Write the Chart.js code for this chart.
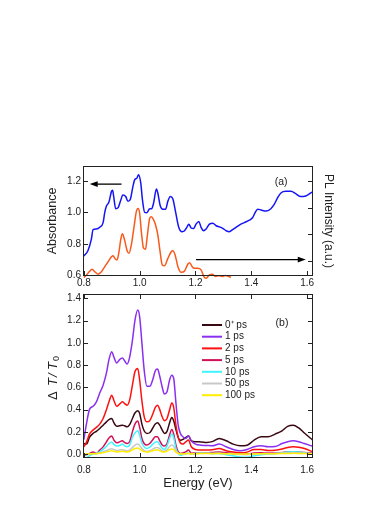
<!DOCTYPE html>
<html>
<head>
<meta charset="utf-8">
<script src="https://cdn.jsdelivr.net/npm/chart.js@4.4.1/dist/chart.umd.min.js"></script>
<style>
  body { margin: 0; background: #fff; }
  #wrap { position: relative; width: 391px; height: 506px; }
  canvas { position: absolute; left: 0; top: 0; }
</style>
</head>
<body>
<div id="wrap">
  <canvas id="chartA" width="391" height="506"></canvas>
  <canvas id="chartB" width="391" height="506"></canvas>
</div>
<script>
// ---- panel (a): absorbance (left axis) and PL (right axis, a.u.)
const absEnergy = [
  0.8, 0.815, 0.827, 0.833, 0.845, 0.857, 0.869, 0.875, 0.881, 0.89,
  0.899, 0.903, 0.907, 0.914, 0.923, 0.931, 0.94, 0.95, 0.958, 0.967,
  0.976, 0.982, 0.99, 0.996, 1.004, 1.01, 1.018, 1.026, 1.036, 1.043,
  1.05, 1.06, 1.065, 1.074, 1.083, 1.093, 1.101, 1.11, 1.119, 1.129,
  1.14, 1.152, 1.161, 1.169, 1.176, 1.185, 1.193, 1.202, 1.212, 1.22,
  1.229, 1.238, 1.25, 1.262, 1.274, 1.286, 1.298, 1.31, 1.321, 1.333,
  1.345, 1.357, 1.375, 1.393, 1.405, 1.414, 1.423, 1.435, 1.452, 1.47,
  1.482, 1.494, 1.506, 1.524, 1.542, 1.56, 1.577, 1.595, 1.613, 1.62
];
const absorbance = [
  0.723, 0.758, 0.83, 0.89, 0.894, 0.905, 0.935, 1.0, 1.04, 1.065,
  1.133, 1.14, 1.10, 1.023, 1.03, 1.07, 1.11, 1.10, 1.07, 1.085,
  1.165, 1.206, 1.217, 1.238, 1.185, 1.08, 1.0, 0.998, 1.023, 1.023,
  1.06, 1.148, 1.123, 1.04, 1.02, 1.02, 1.07, 1.10, 1.085, 1.0,
  0.905, 0.877, 0.883, 0.905, 0.925, 0.9, 0.898, 0.925, 0.942, 0.905,
  0.883, 0.894, 0.925, 0.931, 0.915, 0.908, 0.898, 0.883, 0.877, 0.89,
  0.905, 0.919, 0.935, 0.95, 0.967, 1.0, 1.02, 1.015, 1.008, 1.023,
  1.05, 1.092, 1.123, 1.133, 1.133, 1.117, 1.10, 1.104, 1.123, 1.13
];
const plEnergy = [
  0.8, 0.81, 0.819, 0.83, 0.839, 0.851, 0.863, 0.875, 0.887, 0.899,
  0.905, 0.911, 0.919, 0.926, 0.932, 0.938, 0.946, 0.955, 0.962, 0.97,
  0.98, 0.988, 0.994, 1.0, 1.006, 1.014, 1.021, 1.027, 1.036, 1.042,
  1.05, 1.057, 1.065, 1.074, 1.081, 1.089, 1.101, 1.113, 1.119, 1.127,
  1.137, 1.149, 1.161, 1.173, 1.179, 1.188, 1.196, 1.208, 1.22, 1.23,
  1.238, 1.25, 1.26, 1.271, 1.283, 1.295, 1.307, 1.319, 1.327
];
const plIntensity = [
  0.39, 0.48, 0.60, 0.69, 0.60, 0.51, 0.60, 0.79, 0.98, 1.16,
  1.20, 1.10, 1.04, 1.35, 1.79, 2.02, 1.79, 1.39, 1.29, 1.60,
  2.29, 2.85, 2.97, 2.79, 2.10, 1.48, 1.44, 1.91, 2.60, 2.66,
  2.54, 2.35, 1.98, 1.29, 0.85, 0.82, 1.10, 1.35, 1.39, 1.23,
  0.79, 0.58, 0.63, 0.89, 0.94, 0.79, 0.73, 0.73, 0.67, 0.42,
  0.36, 0.48, 0.51, 0.42, 0.45, 0.42, 0.46, 0.42, 0.39
];
const energyTicks = [0.8, 1.0, 1.2, 1.4, 1.6];
const absTicks = [0.6, 0.8, 1.0, 1.2];
const plTicks = [1, 2, 3, 4];
// arrows in panel (a), in energy / absorbance units: [x0, y0, x1, y1]
const arrowsA = [
  [0.935, 1.179, 0.821, 1.179],
  [1.202, 0.70, 1.595, 0.70]
];

// ---- panel (b): transient transmission
const dtEnergy = [
  0.8, 0.81, 0.82, 0.833, 0.845, 0.857, 0.869, 0.881, 0.89, 0.9,
  0.908, 0.918, 0.928, 0.938, 0.946, 0.955, 0.964, 0.974, 0.983, 0.993,
  1.0, 1.008, 1.016, 1.026, 1.036, 1.047, 1.056, 1.064, 1.072, 1.08,
  1.089, 1.098, 1.107, 1.115, 1.122, 1.13, 1.138, 1.146, 1.155, 1.165,
  1.175, 1.185, 1.2, 1.22, 1.24, 1.26, 1.285, 1.31, 1.335, 1.36,
  1.385, 1.41, 1.435, 1.46, 1.485, 1.51, 1.53, 1.55, 1.57, 1.59,
  1.62
];
const dt0 = [
  0.096, 0.09, 0.15, 0.186, 0.205, 0.23, 0.26, 0.29, 0.31, 0.32,
  0.28, 0.25, 0.255, 0.26, 0.255, 0.245, 0.265, 0.32, 0.37, 0.39,
  0.366, 0.27, 0.21, 0.186, 0.192, 0.235, 0.27, 0.282, 0.26, 0.22,
  0.186, 0.205, 0.28, 0.33, 0.30, 0.22, 0.15, 0.125, 0.132, 0.15,
  0.162, 0.12, 0.111, 0.11, 0.105, 0.112, 0.141, 0.12, 0.09, 0.075,
  0.08, 0.126, 0.156, 0.156, 0.18, 0.21, 0.25, 0.26, 0.235, 0.19,
  0.126
];
const dt1 = [
  0.13, 0.28, 0.40, 0.43, 0.47, 0.55, 0.62, 0.73, 0.85, 0.92,
  0.87, 0.82, 0.85, 0.865, 0.84, 0.81, 0.87, 1.02, 1.20, 1.295,
  1.235, 1.0, 0.76, 0.61, 0.61, 0.67, 0.75, 0.765, 0.70, 0.61,
  0.54, 0.56, 0.665, 0.71, 0.68, 0.46, 0.26, 0.185, 0.156, 0.14,
  0.165, 0.12, 0.09, 0.08, 0.078, 0.075, 0.09, 0.066, 0.042, 0.03,
  0.042, 0.066, 0.075, 0.066, 0.068, 0.095, 0.112, 0.12, 0.112, 0.095,
  0.07
];
const dt2 = [
  0.066, 0.11, 0.18, 0.216, 0.24, 0.27, 0.32, 0.40, 0.47, 0.53,
  0.48, 0.43, 0.45, 0.47, 0.455, 0.44, 0.486, 0.62, 0.74, 0.77,
  0.665, 0.48, 0.34, 0.29, 0.30, 0.36, 0.42, 0.44, 0.40, 0.34,
  0.30, 0.32, 0.396, 0.46, 0.42, 0.26, 0.15, 0.10, 0.09, 0.11,
  0.126, 0.066, 0.042, 0.036, 0.036, 0.04, 0.05, 0.03, 0.018, 0.012,
  0.018, 0.042, 0.042, 0.033, 0.035, 0.045, 0.06, 0.066, 0.062, 0.05,
  0.021
];
const dt5 = [
  -0.018, -0.005, 0.005, 0.02, 0.006, 0.036, 0.065, 0.11, 0.145, 0.162,
  0.125, 0.102, 0.11, 0.12, 0.105, 0.096, 0.111, 0.2, 0.27, 0.297,
  0.24, 0.14, 0.095, 0.081, 0.095, 0.13, 0.156, 0.156, 0.12, 0.085,
  0.072, 0.095, 0.17, 0.222, 0.18, 0.08, 0.02, 0.006, 0.01, 0.02,
  0.036, 0.008, 0.01, 0.012, 0.012, 0.015, 0.02, 0.012, 0.005, 0.0,
  0.0, 0.01, 0.012, 0.01, 0.01, 0.015, 0.02, 0.022, 0.02, 0.015,
  0.008
];
const dt10 = [
  -0.054, -0.035, -0.015, 0.0, 0.006, 0.02, 0.042, 0.07, 0.095, 0.108,
  0.085, 0.072, 0.078, 0.09, 0.075, 0.066, 0.081, 0.15, 0.19, 0.21,
  0.17, 0.10, 0.065, 0.05, 0.062, 0.09, 0.108, 0.111, 0.085, 0.055,
  0.042, 0.075, 0.14, 0.18, 0.15, 0.05, 0.005, -0.01, -0.005, 0.005,
  0.01, 0.0, 0.005, 0.01, 0.008, 0.005, 0.005, -0.005, -0.015, -0.025,
  -0.028, -0.015, -0.005, 0.0, 0.005, 0.012, 0.02, 0.022, 0.02, 0.012,
  0.0
];
const dt50 = [
  -0.01, -0.005, 0.0, 0.005, 0.005, 0.01, 0.02, 0.032, 0.042, 0.048,
  0.04, 0.033, 0.036, 0.04, 0.035, 0.03, 0.035, 0.06, 0.08, 0.09,
  0.078, 0.05, 0.032, 0.025, 0.03, 0.045, 0.058, 0.06, 0.048, 0.032,
  0.025, 0.04, 0.068, 0.082, 0.07, 0.03, 0.008, 0.0, 0.0, 0.005,
  0.008, 0.002, 0.005, 0.008, 0.008, 0.006, 0.008, 0.004, 0.0, -0.004,
  -0.005, 0.0, 0.004, 0.005, 0.006, 0.008, 0.01, 0.012, 0.01, 0.008,
  0.004
];
const dt100 = [
  0.0, 0.0, 0.002, 0.003, 0.004, 0.008, 0.013, 0.02, 0.026, 0.03,
  0.025, 0.02, 0.022, 0.025, 0.022, 0.02, 0.024, 0.038, 0.05, 0.055,
  0.048, 0.032, 0.022, 0.018, 0.022, 0.03, 0.036, 0.038, 0.03, 0.022,
  0.018, 0.026, 0.04, 0.046, 0.04, 0.018, 0.006, 0.002, 0.002, 0.004,
  0.006, 0.002, 0.004, 0.005, 0.005, 0.004, 0.005, 0.003, 0.002, 0.0,
  0.0, 0.002, 0.003, 0.004, 0.004, 0.005, 0.006, 0.007, 0.006, 0.005,
  0.003
];
const delayLabels = ['0\u207A ps', '1 ps', '2 ps', '5 ps', '10 ps', '50 ps', '100 ps'];
const dtTicks = [0.0, 0.2, 0.4, 0.6, 0.8, 1.0, 1.2, 1.4];

const FONT = '"Liberation Sans", Arial, Helvetica, sans-serif';
const INK = '#222';
Chart.defaults.font.family = FONT;
Chart.defaults.color = INK;
Chart.defaults.animation = false;

function pts(xs, ys) {
  return xs.map((x, i) => ({ x: x, y: ys[i] }));
}
function fixedTicks(vals) {
  return scale => { scale.ticks = vals.map(v => ({ value: v })); };
}
const noGrid = { display: false, drawTicks: false };

// frame + inward tick marks
function drawFrame(chart, sides) {
  const { ctx, chartArea: a } = chart;
  ctx.save();
  ctx.strokeStyle = INK;
  ctx.lineWidth = 1;
  ctx.strokeRect(a.left + 0.5, a.top + 0.5, a.right - a.left - 1, a.bottom - a.top - 1);
  ctx.beginPath();
  sides.forEach(s => {
    const sc = chart.scales[s.scale];
    s.vals.forEach(v => {
      const p = Math.round(sc.getPixelForValue(v)) + 0.5;
      if (s.side === 'bottom') { ctx.moveTo(p, a.bottom); ctx.lineTo(p, a.bottom - 5); }
      if (s.side === 'top') { ctx.moveTo(p, a.top); ctx.lineTo(p, a.top + 5); }
      if (s.side === 'left') { ctx.moveTo(a.left, p); ctx.lineTo(a.left + 5, p); }
      if (s.side === 'right') { ctx.moveTo(a.right, p); ctx.lineTo(a.right - 5, p); }
    });
  });
  ctx.stroke();
  ctx.restore();
}

const panelA = {
  id: 'panelA',
  afterDraw(chart) {
    drawFrame(chart, [
      { scale: 'x', side: 'bottom', vals: energyTicks },
      { scale: 'y', side: 'left', vals: absTicks },
      { scale: 'y2', side: 'right', vals: plTicks }
    ]);
    const { ctx, scales: { x, y } } = chart;
    ctx.save();
    ctx.strokeStyle = '#000';
    ctx.fillStyle = '#000';
    ctx.lineWidth = 1.3;
    arrowsA.forEach(a => {
      const x0 = x.getPixelForValue(a[0]), y0 = y.getPixelForValue(a[1]);
      const x1 = x.getPixelForValue(a[2]), y1 = y.getPixelForValue(a[3]);
      const dir = Math.sign(x1 - x0);
      ctx.beginPath();
      ctx.moveTo(x0, y0);
      ctx.lineTo(x1 - dir * 6, y1);
      ctx.stroke();
      ctx.beginPath();
      ctx.moveTo(x1, y1);
      ctx.lineTo(x1 - dir * 8, y1 - 2.8);
      ctx.lineTo(x1 - dir * 8, y1 + 2.8);
      ctx.closePath();
      ctx.fill();
    });
    ctx.fillStyle = INK;
    ctx.font = '10.5px ' + FONT;
    ctx.textAlign = 'center';
    ctx.textBaseline = 'middle';
    ctx.fillText('(a)', x.getPixelForValue(1.507), y.getPixelForValue(1.19));
    ctx.restore();
  }
};

const panelB = {
  id: 'panelB',
  afterDraw(chart) {
    drawFrame(chart, [
      { scale: 'x', side: 'bottom', vals: energyTicks },
      { scale: 'x', side: 'top', vals: energyTicks },
      { scale: 'y', side: 'left', vals: dtTicks },
      { scale: 'y', side: 'right', vals: dtTicks }
    ]);
    const { ctx, chartArea: a, scales: { x, y } } = chart;
    ctx.save();
    // legend
    ctx.font = '10px ' + FONT;
    ctx.textAlign = 'left';
    ctx.textBaseline = 'middle';
    chart.data.datasets.forEach((ds, i) => {
      const ly = a.top + 31 + i * 11.7;
      ctx.strokeStyle = ds.borderColor;
      ctx.lineWidth = 2;
      ctx.beginPath();
      ctx.moveTo(a.left + 119, ly);
      ctx.lineTo(a.left + 139, ly);
      ctx.stroke();
      ctx.fillStyle = INK;
      ctx.fillText(ds.label, a.left + 142, ly);
    });
    ctx.textAlign = 'center';
    ctx.font = '10.5px ' + FONT;
    ctx.fillText('(b)', x.getPixelForValue(1.51), y.getPixelForValue(1.175));
    // y axis title: ΔT/T0
    ctx.translate(53, 374);
    ctx.rotate(-Math.PI / 2);
    ctx.textAlign = 'left';
    ctx.textBaseline = 'middle';
    const start = -26;
    ctx.font = '13px ' + FONT;
    ctx.fillText('\u0394', start, 0);
    ctx.font = 'italic 13px ' + FONT;
    ctx.fillText('T', start + 14, 0);
    ctx.fillText('/', start + 23, 0);
    ctx.fillText('T', start + 30, 0);
    ctx.font = '9px ' + FONT;
    ctx.fillText('0', start + 39, 4);
    ctx.restore();
  }
};

const lineStyle = { pointRadius: 0, borderWidth: 1.5, cubicInterpolationMode: 'monotone', fill: false };

new Chart(document.getElementById('chartA'), {
  type: 'line',
  data: {
    datasets: [
      Object.assign({ label: 'Absorbance', data: pts(absEnergy, absorbance), borderColor: '#1414f5', yAxisID: 'y' }, lineStyle),
      Object.assign({ label: 'PL', data: pts(plEnergy, plIntensity), borderColor: '#f85a1c', yAxisID: 'y2',
        clip: { left: 0, top: 0, right: 0, bottom: 4 } }, lineStyle)
    ]
  },
  options: {
    responsive: false,
    layout: { padding: { top: 166, left: 0, right: 0, bottom: 206 } },
    plugins: { legend: { display: false }, tooltip: { enabled: false } },
    scales: {
      x: {
        type: 'linear', min: 0.797, max: 1.621,
        afterBuildTicks: fixedTicks(energyTicks),
        afterFit: s => { s.height = 24; },
        grid: noGrid, border: { display: false },
        ticks: { font: { size: 10 }, padding: 1, maxRotation: 0, callback: v => v.toFixed(1) }
      },
      y: {
        position: 'left', min: 0.596, max: 1.294,
        afterBuildTicks: fixedTicks(absTicks),
        afterFit: s => { s.width = 83; },
        grid: noGrid, border: { display: false },
        ticks: { font: { size: 10 }, padding: 2, callback: v => v.toFixed(1) },
        title: { display: true, text: 'Absorbance', font: { size: 12.5 }, padding: { top: 45.5 } }
      },
      y2: {
        position: 'right', min: 0.44, max: 4.56,
        afterBuildTicks: fixedTicks(plTicks),
        afterFit: s => { s.width = 78; },
        grid: noGrid, border: { display: false },
        ticks: { display: false },
        title: { display: true, text: 'PL Intensity (a.u.)', font: { size: 12 }, padding: { top: 55.8 } }
      }
    }
  },
  plugins: [panelA]
});

const dtSeries = [dt0, dt1, dt2, dt5, dt10, dt50, dt100];
const dtColors = ['#3a0812', '#8a2ff0', '#ff1010', '#d01058', '#40f4ff', '#c8c8c8', '#ffee00'];

new Chart(document.getElementById('chartB'), {
  type: 'line',
  data: {
    datasets: dtSeries.map((s, i) => Object.assign({
      label: delayLabels[i],
      data: pts(dtEnergy, s),
      borderColor: dtColors[i],
      order: dtSeries.length - i
    }, lineStyle))
  },
  options: {
    responsive: false,
    layout: { padding: { top: 294, left: 0, right: 78, bottom: 0 } },
    plugins: { legend: { display: false }, tooltip: { enabled: false } },
    scales: {
      x: {
        type: 'linear', min: 0.797, max: 1.621,
        afterBuildTicks: fixedTicks(energyTicks),
        afterFit: s => { s.height = 48; },
        grid: noGrid, border: { display: false },
        ticks: { font: { size: 10 }, padding: 6, maxRotation: 0, callback: v => v.toFixed(1) },
        title: { display: true, text: 'Energy (eV)', font: { size: 13 }, padding: { bottom: 15 } }
      },
      y: {
        min: -0.035, max: 1.44,
        afterBuildTicks: fixedTicks(dtTicks),
        afterFit: s => { s.width = 83; },
        grid: noGrid, border: { display: false },
        ticks: { font: { size: 10 }, padding: 2, callback: v => v.toFixed(1) }
      }
    }
  },
  plugins: [panelB]
});
</script>
</body>
</html>
